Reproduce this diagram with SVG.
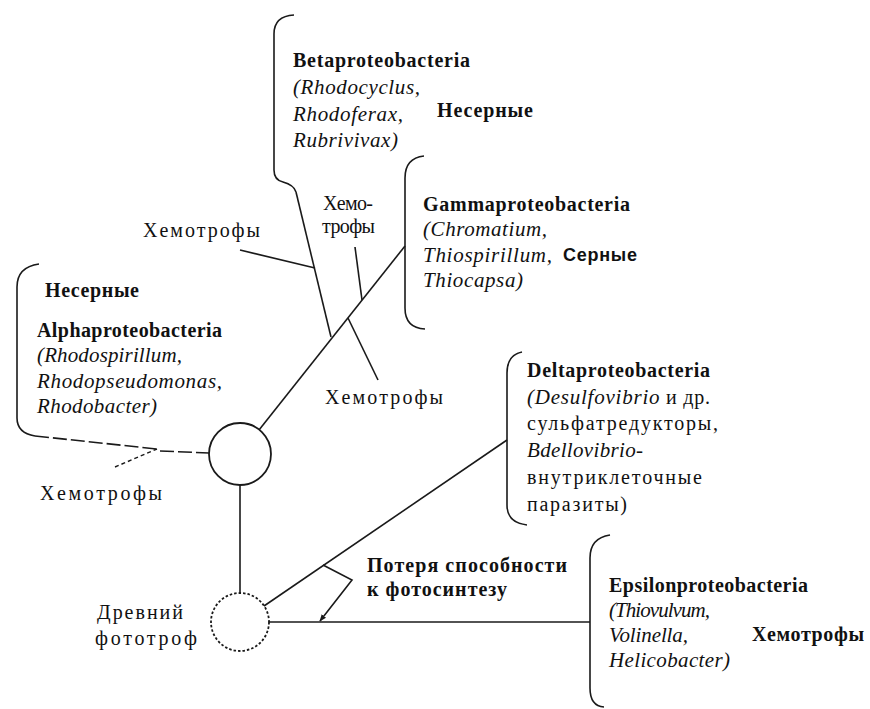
<svg xmlns="http://www.w3.org/2000/svg" width="870" height="709" viewBox="0 0 870 709">
<defs>
<style>
text{font-family:"Liberation Serif","Times New Roman",serif;font-size:20px;fill:#111}
.b{font-weight:bold}
.i{font-style:italic;font-size:21px}
.s{font-family:"Liberation Sans",Arial,sans-serif;font-weight:bold;font-size:18px}
.ln{fill:none;stroke:#1a1a1a;stroke-width:1.6}
.br{fill:none;stroke:#1a1a1a;stroke-width:1.6}
.dash{fill:none;stroke:#1a1a1a;stroke-width:1.6;stroke-dasharray:14 4}
.sd{fill:none;stroke:#1a1a1a;stroke-width:1.4;stroke-dasharray:4 3}
</style>
<marker id="ah" viewBox="0 0 10 10" refX="9" refY="5" markerWidth="7" markerHeight="7" orient="auto" markerUnits="userSpaceOnUse">
<path d="M0,1 L10,5 L0,9 z" fill="#1a1a1a"/>
</marker>
</defs>
<rect width="870" height="709" fill="#fff"/>

<g id="connectors">
<line class="ln" x1="259" y1="430" x2="405" y2="246"/>
<path class="ln" d="M296,192 L331,337"/>
<line class="ln" x1="240" y1="250" x2="315" y2="268"/>
<line class="ln" x1="355" y1="247" x2="362" y2="300"/>
<line class="ln" x1="348" y1="318" x2="378" y2="380"/>
<line class="ln" x1="240" y1="485" x2="240" y2="593"/>
<line class="ln" x1="264" y1="606" x2="507" y2="440"/>
<line class="ln" x1="269" y1="622" x2="590" y2="622" stroke="#333" stroke-width="1.3"/>
<path class="dash" d="M35,436 L157,449"/>
<line class="sd" x1="115" y1="467" x2="157" y2="449"/>
<line class="dash" x1="160" y1="451" x2="209" y2="453"/>
<polyline class="ln" points="323,565 352,580 320,621" marker-end="url(#ah)"/>
</g>

<g id="node-ancestor">
<circle cx="240" cy="622" r="29" fill="none" stroke="#1a1a1a" stroke-width="1.8" stroke-dasharray="2.5 2"/>
<text x="97" y="619" textLength="86">Древний</text>
<text x="95" y="645" textLength="102">фототроф</text>
</g>

<g id="node-proteo">
<circle cx="240" cy="454" r="31" fill="none" stroke="#1a1a1a" stroke-width="1.8"/>
</g>

<g id="node-alpha">
<path class="br" d="M39,264 Q17,267 17,287 L17,418 Q17,433 35,436"/>
<text class="b" x="45" y="297" textLength="94">Несерные</text>
<text class="b" x="37" y="337" textLength="185">Alphaproteobacteria</text>
<text class="i" x="37" y="362" textLength="145">(Rhodospirillum,</text>
<text class="i" x="37" y="388" textLength="185">Rhodopseudomonas,</text>
<text class="i" x="37" y="413" textLength="120">Rhodobacter)</text>
</g>

<g id="node-beta">
<path class="br" d="M294,15 Q274,16 274,34 L274,170 Q274,180 283,182 Q294,185 296,192"/>
<text class="b" x="293" y="67" textLength="177">Betaproteobacteria</text>
<text class="i" x="293" y="94" textLength="127">(Rhodocyclus,</text>
<text class="i" x="293" y="121" textLength="110">Rhodoferax,</text>
<text class="i" x="293" y="147" textLength="105">Rubrivivax)</text>
<text class="b" x="437" y="117" textLength="96">Несерные</text>
</g>

<g id="node-gamma">
<path class="br" d="M424,156 Q405,158 405,178 L405,308 Q405,328 425,329"/>
<text class="b" x="423" y="211" textLength="207">Gammaproteobacteria</text>
<text class="i" x="423" y="236" textLength="124">(Chromatium,</text>
<text class="i" x="423" y="262" textLength="129">Thiospirillum,</text>
<text class="i" x="423" y="287" textLength="100">Thiocapsa)</text>
<text class="s" x="563" y="261" textLength="74">Серные</text>
</g>

<g id="node-delta">
<path class="br" d="M522,352 Q507,355 507,373 L507,505 Q507,523 527,525"/>
<text class="b" x="527" y="377" textLength="183">Deltaproteobacteria</text>
<text x="527" y="404" textLength="183"><tspan class="i">(Desulfovibrio</tspan> и др.</text>
<text x="527" y="430" textLength="191">сульфатредукторы,</text>
<text class="i" x="527" y="457" textLength="116">Bdellovibrio-</text>
<text x="527" y="484" textLength="175">внутриклеточные</text>
<text x="527" y="511" textLength="100">паразиты)</text>
</g>

<g id="node-epsilon">
<path class="br" d="M610,535 Q590,538 590,558 L590,688 Q590,706 604,707"/>
<text class="b" x="609" y="592" textLength="199">Epsilonproteobacteria</text>
<text class="i" x="609" y="617" textLength="101">(Thiovulvum,</text>
<text class="i" x="609" y="642" textLength="79">Volinella,</text>
<text class="i" x="609" y="667" textLength="121">Helicobacter)</text>
<text class="b" x="752" y="641" textLength="112">Хемотрофы</text>
</g>

<g id="labels">
<text x="143" y="237" textLength="117">Хемотрофы</text>
<text x="323" y="210" textLength="50">Хемо-</text>
<text x="322" y="233" textLength="53">трофы</text>
<text x="325" y="404" textLength="118">Хемотрофы</text>
<text x="40" y="500" textLength="122">Хемотрофы</text>
<text class="b" x="367" y="572" textLength="200">Потеря способности</text>
<text class="b" x="367" y="596" textLength="140">к фотосинтезу</text>
</g>
</svg>
